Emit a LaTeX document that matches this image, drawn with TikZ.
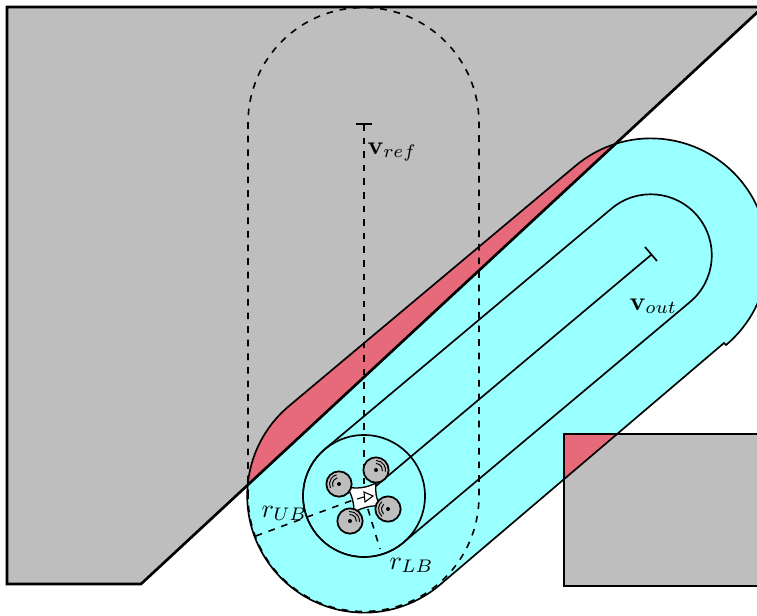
\documentclass[tikz,border=0pt]{standalone}
\usetikzlibrary{calc}
\definecolor{obsgray}{RGB}{190,190,190}
\definecolor{freecyan}{RGB}{153,255,255}
\definecolor{hitred}{RGB}{230,106,122}
\tikzset{
  bound/.style={line width=2pt},
  track/.style={line width=1.25pt},
  refline/.style={line width=1.2pt,dash pattern=on 5pt off 5.2pt},
  rotor/.style={draw,line width=1.3pt,fill=obsgray,circle,minimum size=19pt,inner sep=0pt},
  hub/.style={fill=black,circle,minimum size=3pt,inner sep=0pt},
  tag/.style={inner sep=0pt,scale=1.95},
}
\newcommand{\outerpath}{(289,406) arc[start angle=230,delta angle=-180,radius=117] -- (724,343) -- (726,345) arc[start angle=50,delta angle=-180,radius=117] -- cycle}
\newcommand{\upperobs}{(7,7) -- (763,7) -- (141,584) -- (7,584) -- cycle}
\newcommand{\lowerobs}{(564,434) -- (790,434) -- (790,586) -- (564,586) -- cycle}
\begin{document}
\begin{tikzpicture}[x=0.75pt,y=-0.75pt]
  \useasboundingbox (0,0) rectangle (757,615);
  \clip (0,0) rectangle (757,615);
  \coordinate (robot) at (364,496);
  \coordinate (vout) at (651,255);
  \coordinate (vref) at (364,124);
  \coordinate (ubend) at (253,537);
  \coordinate (lbend) at (380,549);
  % obstacles and tube
  \fill[obsgray] \upperobs;
  \fill[obsgray] \lowerobs;
  \fill[freecyan] \outerpath;
  \begin{scope}
    \clip \upperobs;
    \fill[hitred] \outerpath;
  \end{scope}
  \begin{scope}
    \clip \lowerobs;
    \fill[hitred] \outerpath;
  \end{scope}
  \draw[track] \outerpath;
  \draw[track] (325,449) arc[start angle=230,delta angle=-180,radius=61] -- (690,302) arc[start angle=50,delta angle=-180,radius=61] -- cycle;
  \fill[freecyan] (robot) circle[radius=60];
  \draw[track] (robot) circle[radius=61];
  \draw[track] (robot) -- (vout);
  \draw[track] ($(vout)+(-6,-8)$) -- ($(vout)+(6,6)$);
  % reference tube
  \draw[refline] (248,496) -- (248,123) arc[start angle=180,delta angle=180,radius=115.5] -- (479,496) arc[start angle=0,delta angle=180,radius=115.5];
  \draw[refline] (vref) -- (robot);
  \draw[track] ($(vref)+(-8,0)$) -- ($(vref)+(8,0)$);
  \draw[refline] (robot) -- (ubend);
  \draw[refline] (robot) -- (lbend);
  \draw[bound] \upperobs;
  \draw[bound] \lowerobs;
  % quadrotor
  \draw[line width=1pt,fill=white] (347,487) .. controls (357,489) and (366,488) .. (376,483) .. controls (375,491) and (376,498) .. (380,506) .. controls (371,505) and (362,508) .. (354,512) .. controls (354,503) and (352,495) .. (347,487) -- cycle;
  \foreach \name/\hubx/\huby/\ang in {rotora/339/484/205,rotorb/376/470/-40,rotorc/388/509/180,rotord/350/521/-45}{
    \node[rotor] (\name) at (\hubx,\huby) {};
    \node[hub] (\name hub) at (\hubx,\huby) {};
    \draw[line width=0.75pt] (\name.center) ++(\ang-50:6.5) arc[start angle=\ang-50,delta angle=100,radius=6.5];
    \draw[line width=0.75pt] (\name.center) ++(\ang-50:9.5) arc[start angle=\ang-50,delta angle=100,radius=9.5];
  }
  \coordinate (arrowtail) at (357,499);
  \coordinate (arrowbase) at (364,497);
  \draw[line width=0.8pt] (arrowtail) -- (arrowbase);
  \draw[line width=0.8pt,fill=white] (373,496) -- (364,492) -- (365,502) -- cycle;
  % labels
  \node[tag,anchor=base west] (vreftag) at (367,154) {$\mathbf{v}_{ref}$};
  \node[tag,anchor=base west] (vouttag) at (629,310) {$\mathbf{v}_{out}$};
  \node[tag,anchor=base west] (ubtag) at (261,517) {$r_{UB}$};
  \node[tag,anchor=base west] (lbtag) at (389,569) {$r_{LB}$};
\end{tikzpicture}
\end{document}
